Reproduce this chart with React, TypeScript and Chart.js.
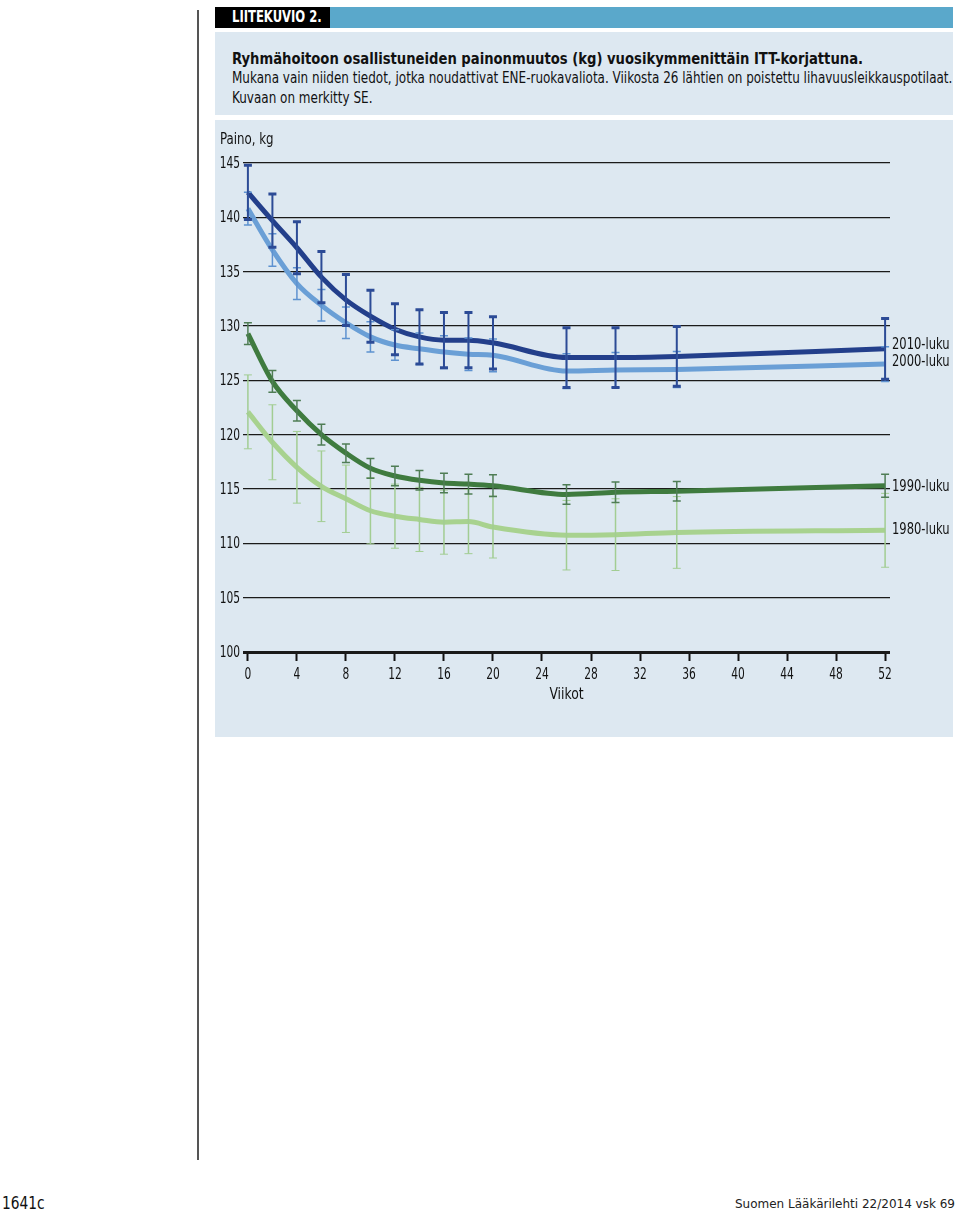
import React, { useEffect, useRef } from "react";
import { Chart, registerables } from "chart.js";

Chart.register(...registerables);

const WEEKS = [0, 2, 4, 6, 8, 10, 12, 14, 16, 18, 20, 26, 30, 35, 52];
const X_TICKS = [0, 4, 8, 12, 16, 20, 24, 28, 32, 36, 40, 44, 48, 52];
const Y_TICKS = [100, 105, 110, 115, 120, 125, 130, 135, 140, 145];

const SERIES_NAMES = ["2010-luku", "2000-luku", "1990-luku", "1980-luku"];
const MEAN_2010 = [142.3, 139.7, 137.2, 134.5, 132.4, 130.9, 129.7, 129.0, 128.7, 128.7, 128.45, 127.1, 127.1, 127.2, 127.9];
const SE_2010 = [2.5, 2.45, 2.4, 2.35, 2.35, 2.4, 2.35, 2.5, 2.55, 2.55, 2.4, 2.75, 2.75, 2.75, 2.8];
const MEAN_2000 = [140.8, 137.0, 133.9, 131.9, 130.3, 129.0, 128.25, 127.9, 127.6, 127.4, 127.3, 125.85, 125.95, 126.0, 126.5];
const SE_2000 = [1.5, 1.5, 1.45, 1.45, 1.45, 1.4, 1.4, 1.45, 1.5, 1.5, 1.5, 1.6, 1.6, 1.65, 1.6];
const MEAN_1990 = [129.3, 124.9, 122.2, 120.0, 118.3, 116.9, 116.2, 115.8, 115.55, 115.45, 115.3, 114.5, 114.7, 114.8, 115.3];
const SE_1990 = [1.0, 1.0, 0.95, 0.95, 0.85, 0.9, 0.9, 0.9, 0.9, 0.9, 1.0, 0.9, 0.95, 0.9, 1.05];
const MEAN_1980 = [122.1, 119.3, 117.0, 115.25, 114.1, 113.0, 112.5, 112.2, 111.95, 112.0, 111.5, 110.75, 110.8, 111.0, 111.2];
const SE_1980 = [3.4, 3.45, 3.3, 3.25, 3.1, 3.05, 2.95, 2.95, 2.95, 2.95, 2.85, 3.2, 3.3, 3.3, 3.4];

const FONT = '"DejaVu Sans Condensed", "Liberation Sans Narrow", Roboto, sans-serif';

const STYLES = [
  { line: "#233f8b", bar: "#2c4b96", barW: 2, capW: 3, labelDy: -4 },
  { line: "#6a9fd6", bar: "#5e92d0", barW: 1.5, capW: 1.5, labelDy: -2 },
  { line: "#3f7b3f", bar: "#4f7d55", barW: 1.5, capW: 1.5, labelDy: 1 },
  { line: "#a8d28f", bar: "#a2cd93", barW: 1.5, capW: 1, labelDy: 0 },
];

const MEANS = [MEAN_2010, MEAN_2000, MEAN_1990, MEAN_1980];
const SES = [SE_2010, SE_2000, SE_1990, SE_1980];

function drawText(ctx: any, text: string, x: number, y: number, align: string, sx: number) {
  ctx.save();
  ctx.translate(x, y);
  ctx.scale(sx, 1);
  ctx.textAlign = align;
  ctx.textBaseline = "middle";
  ctx.fillText(text, 0, 0);
  ctx.restore();
}

const errorBarPlugin = {
  id: "errorBars",
  afterDatasetsDraw(chart: any) {
    const { ctx, scales } = chart;
    const xs = scales.x;
    const ys = scales.y;
    ctx.save();
    for (let s = MEANS.length - 1; s >= 0; s--) {
      const st = STYLES[s];
      ctx.strokeStyle = st.bar;
      MEANS[s].forEach((m, i) => {
        const x = xs.getPixelForValue(WEEKS[i]);
        const yt = ys.getPixelForValue(m + SES[s][i]);
        const yb = ys.getPixelForValue(m - SES[s][i]);
        ctx.lineWidth = st.barW;
        ctx.beginPath();
        ctx.moveTo(x, yt);
        ctx.lineTo(x, yb);
        ctx.stroke();
        ctx.lineWidth = st.capW;
        ctx.beginPath();
        ctx.moveTo(x - 4, yt);
        ctx.lineTo(x + 4, yt);
        ctx.moveTo(x - 4, yb);
        ctx.lineTo(x + 4, yb);
        ctx.stroke();
      });
    }
    ctx.restore();
  },
  afterDraw(chart: any) {
    const { ctx, scales, chartArea } = chart;
    ctx.save();
    ctx.fillStyle = "#111";
    ctx.font = `16px ${FONT}`;
    scales.y.ticks.forEach((t: any) => {
      drawText(ctx, String(t.value), scales.y.right - 3, scales.y.getPixelForValue(t.value) + 1, "right", 0.74);
    });
    scales.x.ticks.forEach((t: any) => {
      drawText(ctx, String(t.value), scales.x.getPixelForValue(t.value), chartArea.bottom + 23, "center", 0.74);
    });
    drawText(ctx, "Viikot", (chartArea.left + chartArea.right) / 2, chartArea.bottom + 43, "center", 0.86);
    MEANS.forEach((m, s) => {
      const last = m.length - 1;
      const y = scales.y.getPixelForValue(m[last]) + STYLES[s].labelDy;
      drawText(ctx, SERIES_NAMES[s], chartArea.right + 2, y, "left", 0.8);
    });
    drawText(ctx, "Paino, kg", 5, 20, "left", 0.82);
    ctx.restore();
  },
};

function ChartCanvas() {
  const ref = useRef<HTMLCanvasElement | null>(null);
  useEffect(() => {
    if (!ref.current) return;
    const chart = new Chart(ref.current, {
      type: "line",
      data: {
        datasets: MEANS.map((m, s) => ({
          label: SERIES_NAMES[s],
          data: m.map((v, i) => ({ x: WEEKS[i], y: v })),
          borderColor: STYLES[s].line,
          borderWidth: 5,
          pointRadius: 0,
          cubicInterpolationMode: "monotone" as const,
          fill: false,
        })),
      },
      options: {
        animation: false,
        responsive: false,
        maintainAspectRatio: false,
        layout: { padding: { left: 0, right: 63, top: 43, bottom: 35 } },
        plugins: { legend: { display: false }, tooltip: { enabled: false } },
        scales: {
          x: {
            type: "linear",
            min: -0.4,
            max: 52.4,
            afterBuildTicks: (scale: any) => {
              scale.ticks = X_TICKS.map((v) => ({ value: v }));
            },
            afterFit: (scale: any) => {
              scale.height = 50;
            },
            border: { display: false },
            grid: {
              drawOnChartArea: false,
              drawTicks: true,
              tickLength: 9,
              tickColor: "#111",
              tickWidth: 2,
            },
            ticks: { display: false },
          },
          y: {
            min: 100,
            max: 145,
            afterBuildTicks: (scale: any) => {
              scale.ticks = Y_TICKS.map((v) => ({ value: v }));
            },
            afterFit: (scale: any) => {
              scale.width = 28;
            },
            border: { display: false },
            grid: {
              drawTicks: false,
              color: "#1a1a1a",
              lineWidth: (ctx: any) => (ctx.tick && ctx.tick.value === 100 ? 3 : 1.2),
            },
            ticks: { display: false },
          },
        },
      },
      plugins: [errorBarPlugin],
    });
    return () => chart.destroy();
  }, []);
  return (
    <canvas
      ref={ref}
      width={738}
      height={617}
      style={{ position: "absolute", left: 215, top: 120, width: 738, height: 617 }}
    />
  );
}

function Squeezed(props: { sx: number; style: any; children: any }) {
  return (
    <div
      style={{
        position: "absolute",
        whiteSpace: "nowrap",
        transform: `scaleX(${props.sx})`,
        transformOrigin: "left center",
        ...props.style,
      }}
    >
      {props.children}
    </div>
  );
}

export default function App() {
  const panel = "#dde8f1";
  return (
    <div
      style={{
        position: "absolute",
        left: 0,
        top: 0,
        width: 960,
        height: 1210,
        background: "#fff",
        fontFamily: FONT,
        color: "#111",
        overflow: "hidden",
      }}
    >
      <div style={{ position: "absolute", left: 197, top: 10, width: 1.5, height: 1150, background: "#555" }} />
      <div style={{ position: "absolute", left: 215, top: 7, width: 115, height: 21, background: "#000" }} />
      <Squeezed sx={0.86} style={{ left: 232, top: 7, height: 21, lineHeight: "21px", color: "#fff", fontSize: 15, fontWeight: "bold" }}>
        LIITEKUVIO 2.
      </Squeezed>
      <div style={{ position: "absolute", left: 330, top: 7, width: 623, height: 21, background: "#5aa8cb" }} />
      <div style={{ position: "absolute", left: 215, top: 32, width: 738, height: 83, background: panel }} />
      <Squeezed sx={0.915} style={{ left: 232, top: 49, fontSize: 16, lineHeight: "20px", fontWeight: "bold" }}>
        Ryhmähoitoon osallistuneiden painonmuutos (kg) vuosikymmenittäin ITT-korjattuna.
      </Squeezed>
      <Squeezed sx={0.834} style={{ left: 232, top: 68, fontSize: 16, lineHeight: "20px" }}>
        Mukana vain niiden tiedot, jotka noudattivat ENE-ruokavaliota. Viikosta 26 lähtien on poistettu lihavuusleikkauspotilaat.
      </Squeezed>
      <Squeezed sx={0.834} style={{ left: 232, top: 88, fontSize: 16, lineHeight: "20px" }}>
        Kuvaan on merkitty SE.
      </Squeezed>
      <div style={{ position: "absolute", left: 215, top: 120, width: 738, height: 617, background: panel }} />
      <ChartCanvas />
      <Squeezed sx={0.85} style={{ left: 2, top: 1192, fontSize: 18, lineHeight: "22px" }}>
        1641c
      </Squeezed>
      <div
        style={{
          position: "absolute",
          right: 5,
          top: 1196,
          fontSize: 12,
          lineHeight: "16px",
          color: "#222",
          fontFamily: '"DejaVu Sans", sans-serif',
        }}
      >
        Suomen Lääkärilehti 22/2014 vsk 69
      </div>
    </div>
  );
}
